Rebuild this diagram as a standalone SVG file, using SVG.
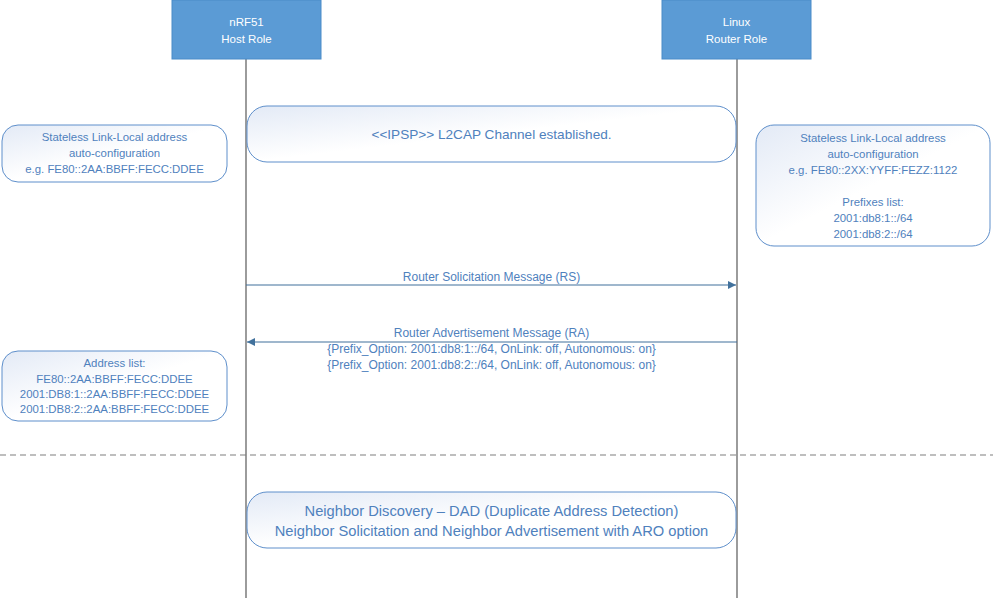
<svg xmlns="http://www.w3.org/2000/svg" width="993" height="598" viewBox="0 0 993 598">
<defs>
<linearGradient id="g" x1="0" y1="0" x2="1" y2="1">
<stop offset="0" stop-color="#E3EAF6"/>
<stop offset="0.5" stop-color="#FFFFFF"/>
<stop offset="1" stop-color="#FFFFFF"/>
</linearGradient>
<marker id="ah" viewBox="0 0 10 10" refX="10" refY="5" markerWidth="10" markerHeight="8" markerUnits="userSpaceOnUse" orient="auto">
<path d="M0,0 L10,5 L0,10 z" fill="#41719C"/>
</marker>
</defs>
<style>
.hdr{fill:#5B9BD5;stroke:#4A8BC8;stroke-width:1}
.ht{fill:#FFFFFF;font-family:"Liberation Sans",Arial,sans-serif;font-size:11.5px;text-anchor:middle}
.life{stroke:#595959;stroke-width:1.2}
.note{fill:url(#g);stroke:#5E8FCB;stroke-width:1}
.nt{fill:#4F81BD;font-family:"Liberation Sans",Arial,sans-serif;font-size:11.4px;text-anchor:middle}
.mt{fill:#4F81BD;font-family:"Liberation Sans",Arial,sans-serif;font-size:12px;text-anchor:middle}
.it{fill:#4F81BD;font-family:"Liberation Sans",Arial,sans-serif;font-size:13.6px;text-anchor:middle}
.bt{fill:#4F81BD;font-family:"Liberation Sans",Arial,sans-serif;font-size:14.7px;text-anchor:middle}
.msg{stroke:#41719C;stroke-width:1.2;fill:none}
</style>
<g id="lifelines">
<line class="life" x1="246" y1="59" x2="246" y2="598"/>
<line class="life" x1="737" y1="59" x2="737" y2="598"/>
</g>
<g id="nrf51">
<rect class="hdr" x="172" y="0" width="149" height="59"/>
<text class="ht" x="246.5" y="26">nRF51</text>
<text class="ht" x="246.5" y="43">Host Role</text>
</g>
<g id="linux">
<rect class="hdr" x="662" y="0" width="149" height="59"/>
<text class="ht" x="736.5" y="26">Linux</text>
<text class="ht" x="736.5" y="43">Router Role</text>
</g>
<g id="left-note">
<rect class="note" x="2" y="125" width="225" height="57" rx="16"/>
<text class="nt" x="114.5" y="141">Stateless Link-Local address</text>
<text class="nt" x="114.5" y="157">auto-configuration</text>
<text class="nt" x="114.5" y="173">e.g. FE80::2AA:BBFF:FECC:DDEE</text>
</g>
<g id="ipsp">
<rect class="note" x="247" y="106" width="489" height="56" rx="20"/>
<text class="it" x="491.5" y="139">&lt;&lt;IPSP&gt;&gt; L2CAP Channel established.</text>
</g>
<g id="right-note">
<rect class="note" x="756" y="125" width="234" height="121" rx="18"/>
<text class="nt" x="873" y="142">Stateless Link-Local address</text>
<text class="nt" x="873" y="158">auto-configuration</text>
<text class="nt" x="873" y="174">e.g. FE80::2XX:YYFF:FEZZ:1122</text>
<text class="nt" x="873" y="206">Prefixes list:</text>
<text class="nt" x="873" y="222">2001:db8:1::/64</text>
<text class="nt" x="873" y="238">2001:db8:2::/64</text>
</g>
<g id="addr-note">
<rect class="note" x="2" y="351" width="225" height="70" rx="16"/>
<text class="nt" x="114.5" y="367">Address list:</text>
<text class="nt" x="114.5" y="383">FE80::2AA:BBFF:FECC:DDEE</text>
<text class="nt" x="114.5" y="398">2001:DB8:1::2AA:BBFF:FECC:DDEE</text>
<text class="nt" x="114.5" y="413">2001:DB8:2::2AA:BBFF:FECC:DDEE</text>
</g>
<g id="nd">
<rect class="note" x="247" y="492" width="489" height="56" rx="20"/>
<text class="bt" x="491.5" y="516">Neighbor Discovery – DAD (Duplicate Address Detection)</text>
<text class="bt" x="491.5" y="536">Neighbor Solicitation and Neighbor Advertisement with ARO option</text>
</g>
<g id="connectors">
<line class="msg" x1="246" y1="285" x2="736" y2="285" marker-end="url(#ah)"/>
<text class="mt" x="491.5" y="281">Router Solicitation Message (RS)</text>
<line class="msg" x1="737" y1="342" x2="247" y2="342" marker-end="url(#ah)"/>
<text class="mt" x="491.5" y="337">Router Advertisement Message (RA)</text>
<text class="mt" x="491.5" y="353">{Prefix_Option: 2001:db8:1::/64, OnLink: off, Autonomous: on}</text>
<text class="mt" x="491.5" y="369">{Prefix_Option: 2001:db8:2::/64, OnLink: off, Autonomous: on}</text>
<line x1="0" y1="455" x2="993" y2="455" stroke="#7F7F7F" stroke-width="1.2" stroke-dasharray="6,4"/>
</g>
</svg>
